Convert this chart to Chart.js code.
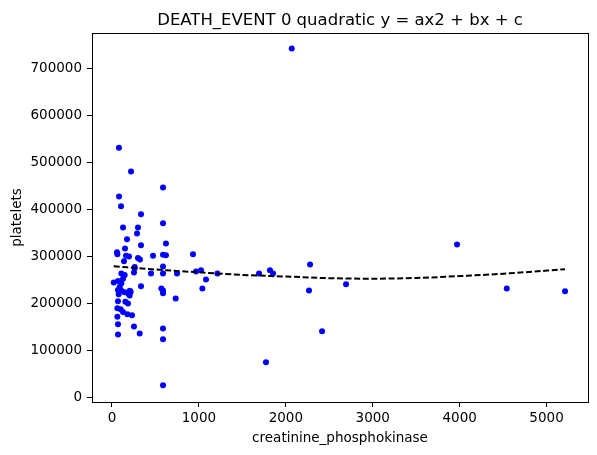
<!DOCTYPE html>
<html>
<head>
<meta charset="utf-8">
<script src="https://cdn.jsdelivr.net/npm/chart.js@4.4.0/dist/chart.umd.min.js"></script>
<style>
  html, body { margin: 0; padding: 0; background: #fff; }
  #wrap { width: 597px; height: 455px; }
</style>
</head>
<body>
<div id="wrap"><canvas id="chart" width="597" height="455"></canvas></div>
<script>
// puntos (creatinine_phosphokinase, platelets)
const cpk = [
  80, 219, 587, 81, 104, 334, 587, 127, 299, 288,
  173, 621, 334, 150, 58, 62, 161, 196, 299, 322,
  472, 587, 621, 932, 138, 261, 587, 108, 146, 127,
  69, 20, 108, 89, 69, 108, 204, 215, 146, 77,
  192, 204, 69, 154, 184, 62, 100, 127, 177, 230,
  62, 69, 253, 69, 319, 334, 253, 261, 449, 587,
  748, 967, 1024, 1082, 1040, 568, 587, 587, 733, 587,
  587, 587, 1213, 1692, 1818, 1853, 2068, 2279, 2267, 2693,
  2417, 1772, 3970, 4542, 5213
];
const platelets = [
  531000, 480000, 446000, 427000, 406000, 389000, 370000, 361000, 361000, 348000,
  336000, 327000, 323000, 316000, 308000, 304000, 301000, 299000, 296000, 293000,
  301000, 303000, 302000, 304000, 289000, 274000, 278000, 263000, 260000, 252000,
  247000, 244000, 242000, 235000, 228000, 226000, 226000, 224000, 223000, 219000,
  219000, 216000, 204000, 203000, 199000, 189000, 187000, 181000, 176000, 174000,
  171000, 155000, 150000, 133000, 135000, 236000, 265000, 277000, 263000, 263000,
  263000, 267000, 270000, 250000, 231000, 231000, 227000, 221000, 210000, 146000,
  123000, 25000, 263000, 263000, 270000, 263000, 742000, 282000, 227000, 240000,
  140000, 74000, 325000, 231000, 225000
];

const fitX = [20, 500, 1000, 1500, 2000, 2500, 3000, 3500, 4000, 4500, 5213];
const fitY = [278500, 271500, 265500, 260000, 256500, 253000, 252000, 253500, 257500, 262500, 272000];

const xTicks = [0, 1000, 2000, 3000, 4000, 5000];
const yTicks = [0, 100000, 200000, 300000, 400000, 500000, 600000, 700000];

const titleText = 'DEATH_EVENT 0 quadratic y = ax2 + bx + c';

Chart.defaults.font.family = "'DejaVu Sans', sans-serif";
Chart.defaults.color = '#000';

// marco completo y título centrado sobre el área de datos, como matplotlib
const frame = {
  id: 'frame',
  afterDraw(chart) {
    const { ctx, chartArea: a } = chart;
    ctx.save();
    ctx.strokeStyle = '#000';
    ctx.lineWidth = 1;
    ctx.strokeRect(Math.round(a.left) + 0.5, Math.round(a.top) + 0.5,
      Math.round(a.right - a.left), Math.round(a.bottom - a.top));
    ctx.fillStyle = '#000';
    ctx.font = "16.5px 'DejaVu Sans', sans-serif";
    ctx.textAlign = 'center';
    ctx.textBaseline = 'alphabetic';
    ctx.fillText(titleText, (a.left + a.right) / 2, a.top - 8);
    ctx.restore();
  }
};

const tickGrid = { display: true, drawOnChartArea: false, drawTicks: true, tickLength: 5, color: '#000', lineWidth: 1 };

new Chart(document.getElementById('chart'), {
  data: {
    datasets: [
      {
        type: 'line',
        data: fitX.map((x, i) => ({ x, y: fitY[i] })),
        borderColor: '#000',
        borderWidth: 2,
        borderDash: [6, 2.6],
        pointRadius: 0,
        cubicInterpolationMode: 'monotone',
        fill: false,
        order: 0
      },
      {
        type: 'scatter',
        data: cpk.map((x, i) => ({ x, y: platelets[i] })),
        backgroundColor: '#0000ff',
        borderWidth: 0,
        pointRadius: 3,
        order: 1
      }
    ]
  },
  options: {
    responsive: false,
    animation: false,
    devicePixelRatio: 1,
    layout: { padding: { left: 0, right: 9, top: 33, bottom: 0 } },
    plugins: {
      legend: { display: false },
      tooltip: { enabled: false },
      title: { display: false }
    },
    scales: {
      x: {
        type: 'linear',
        position: 'bottom',
        min: -230,
        max: 5477,
        afterBuildTicks: s => { s.ticks = xTicks.map(v => ({ value: v })); },
        afterFit: s => { s.height = 53; },
        ticks: { font: { size: 13.5 }, padding: 3, maxRotation: 0, callback: v => String(v) },
        grid: tickGrid,
        border: { display: false },
        title: { display: true, text: 'creatinine_phosphokinase', font: { size: 13.5 }, padding: { top: 0, bottom: 8 } }
      },
      y: {
        type: 'linear',
        min: -10640,
        max: 775100,
        afterBuildTicks: s => { s.ticks = yTicks.map(v => ({ value: v })); },
        afterFit: s => { s.width = 92; },
        ticks: { font: { size: 13.5 }, padding: 5, callback: v => String(v) },
        grid: tickGrid,
        border: { display: false },
        title: { display: true, text: 'platelets', font: { size: 13.5 }, padding: { top: 9, bottom: 0 } }
      }
    }
  },
  plugins: [frame]
});
</script>
</body>
</html>
